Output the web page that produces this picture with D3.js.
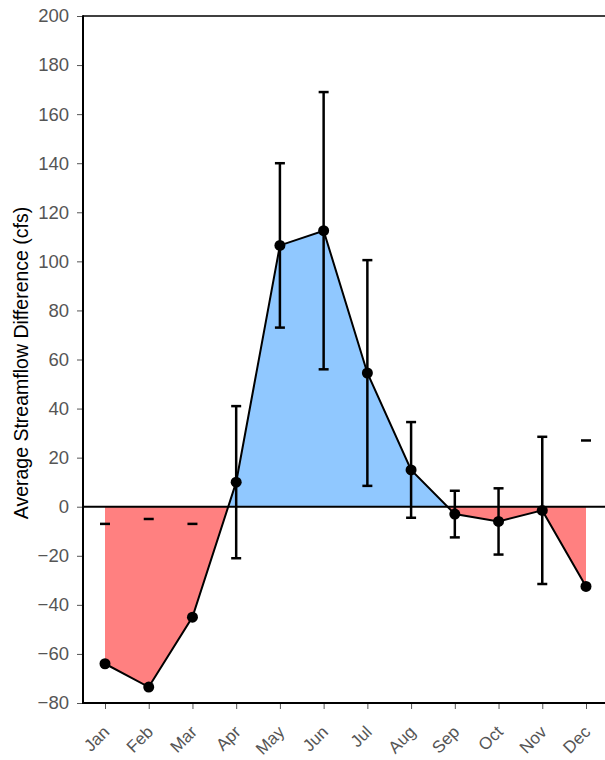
<!DOCTYPE html>
<html>
<head>
<meta charset="utf-8">
<script src="https://cdn.jsdelivr.net/npm/d3@7"></script>
<style>
  body { margin: 0; background: #fff; }
  svg { font-family: "Liberation Sans", Arial, sans-serif; }
</style>
</head>
<body>
<div id="chart"></div>
<script>
// data
var months = ["Jan", "Feb", "Mar", "Apr", "May", "Jun", "Jul", "Aug", "Sep", "Oct", "Nov", "Dec"];
var values = [-64, -73.5, -45, 10, 106.5, 112.5, 54.5, 15, -3, -6, -1.5, -32.5];
var upper = [-7, -5, -7, 41, 140, 169, 100.5, 34.5, 6.5, 7.5, 28.5, 27];
var lower = [null, null, null, -21, 73, 56, 8.5, -4.5, -12.5, -19.5, -31.5, null];
var yTicks = [-80, -60, -40, -20, 0, 20, 40, 60, 80, 100, 120, 140, 160, 180, 200];

var w = 605, h = 760,
    mLeft = 83, mRight = 605, mTop = 16, mBottom = 703;

var data = months.map(function (m, i) {
  return { month: m, value: values[i], hi: upper[i], lo: lower[i] };
});

var x = d3.scalePoint().domain(months).range([105, 586]);
var y = d3.scaleLinear().domain([-80, 200]).range([mBottom, mTop]);

var svg = d3.select("#chart").append("svg")
  .attr("width", w).attr("height", h);

// clip regions above and below zero
var defs = svg.append("defs");
defs.append("clipPath").attr("id", "above")
  .append("rect").attr("x", 0).attr("y", 0).attr("width", w).attr("height", y(0));
defs.append("clipPath").attr("id", "below")
  .append("rect").attr("x", 0).attr("y", y(0)).attr("width", w).attr("height", h - y(0));

var area = d3.area()
  .x(function (d) { return x(d.month); })
  .y0(y(0))
  .y1(function (d) { return y(d.value); });

svg.append("path").datum(data)
  .attr("d", area).attr("fill", "#90c8ff")
  .attr("clip-path", "url(#above)");
svg.append("path").datum(data)
  .attr("d", area).attr("fill", "#ff8080")
  .attr("clip-path", "url(#below)");

// zero line
svg.append("line")
  .attr("x1", mLeft).attr("x2", mRight)
  .attr("y1", y(0)).attr("y2", y(0))
  .attr("stroke", "#000").attr("stroke-width", 2);

// top frame line
svg.append("line")
  .attr("x1", mLeft).attr("x2", mRight)
  .attr("y1", mTop).attr("y2", mTop)
  .attr("stroke", "#000").attr("stroke-width", 1.5);

// axes
var yAxis = d3.axisLeft(y).tickValues(yTicks).tickSize(6).tickPadding(8)
  .tickFormat(function (d) { return d < 0 ? "\u2212" + Math.abs(d) : d; });
var gy = svg.append("g").attr("transform", "translate(" + mLeft + ",0)").call(yAxis);
gy.select(".domain").remove();
gy.selectAll(".tick line").attr("stroke", "#555");
gy.selectAll(".tick text").attr("fill", "#555").style("font-size", "18.5px");
svg.append("line")
  .attr("x1", mLeft).attr("x2", mLeft).attr("y1", mTop - 0.75).attr("y2", mBottom + 1)
  .attr("stroke", "#000").attr("stroke-width", 2);

var xAxis = d3.axisBottom(x).tickSize(6).tickPadding(6);
var gx = svg.append("g").attr("transform", "translate(0," + mBottom + ")").call(xAxis);
gx.select(".domain").remove();
gx.selectAll(".tick line").attr("stroke", "#555");
gx.selectAll(".tick text")
  .attr("fill", "#555").style("font-size", "17px")
  .attr("text-anchor", "end")
  .attr("y", 0).attr("dy", 0)
  .attr("transform", "translate(5,30) rotate(-45)");
svg.append("line")
  .attr("x1", mLeft).attr("x2", mRight).attr("y1", mBottom).attr("y2", mBottom)
  .attr("stroke", "#000").attr("stroke-width", 2);

svg.append("text")
  .attr("transform", "translate(28,363) rotate(-90)")
  .attr("text-anchor", "middle")
  .style("font-size", "19.5px")
  .attr("fill", "#000")
  .text("Average Streamflow Difference (cfs)");

// error bars
var capW = 5;
var eb = svg.append("g").attr("stroke", "#000").attr("stroke-width", 2.5);
data.forEach(function (d) {
  var cx = x(d.month);
  if (d.lo !== null) {
    eb.append("line").attr("x1", cx).attr("x2", cx)
      .attr("y1", y(d.hi)).attr("y2", y(d.lo));
    eb.append("line").attr("x1", cx - capW).attr("x2", cx + capW)
      .attr("y1", y(d.lo)).attr("y2", y(d.lo));
  }
  eb.append("line").attr("x1", cx - capW).attr("x2", cx + capW)
    .attr("y1", y(d.hi)).attr("y2", y(d.hi));
});

// line and points
var line = d3.line()
  .x(function (d) { return x(d.month); })
  .y(function (d) { return y(d.value); });
svg.append("path").datum(data)
  .attr("d", line).attr("fill", "none")
  .attr("stroke", "#000").attr("stroke-width", 2);

svg.selectAll("circle.pt").data(data).enter().append("circle")
  .attr("class", "pt")
  .attr("cx", function (d) { return x(d.month); })
  .attr("cy", function (d) { return y(d.value); })
  .attr("r", 5.5).attr("fill", "#000");
</script>
</body>
</html>
